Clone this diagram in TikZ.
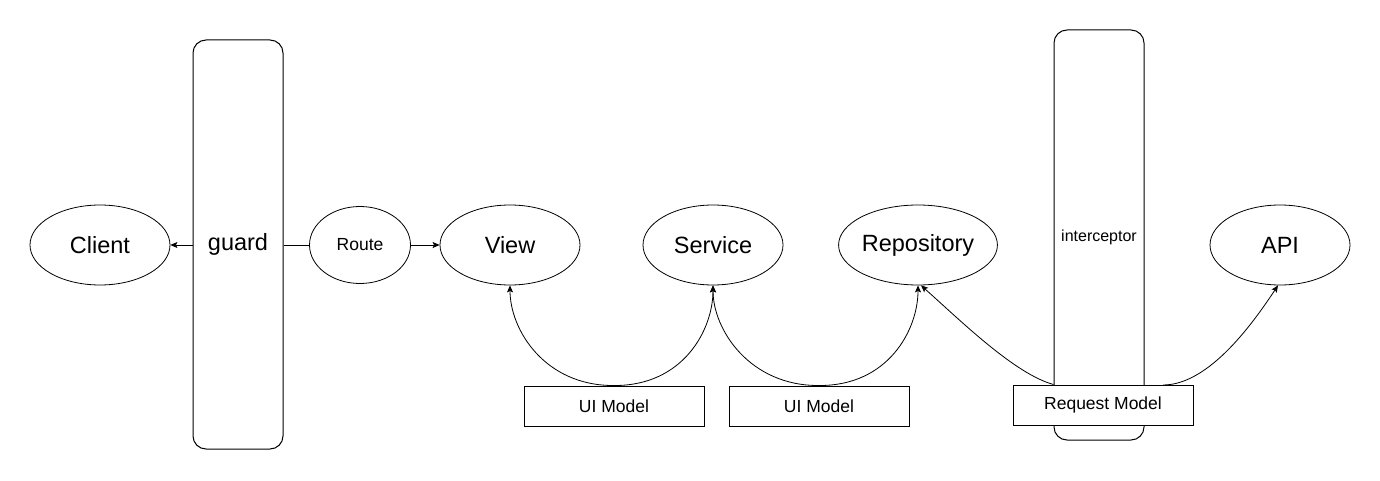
\documentclass[tikz,border=0pt]{standalone}
\usepackage{fontspec}
\setmainfont{Liberation Sans}
\usetikzlibrary{shapes.geometric,arrows.meta}
\begin{document}
\begin{tikzpicture}[x=1pt,y=-1pt,
  every node/.style={font=\fontsize{23.5}{28}\selectfont},
  oval/.style={ellipse,draw,line width=0.8pt,inner sep=0pt,minimum width=140pt,minimum height=80pt,fill=white},
  bar/.style={draw,line width=1pt,rounded corners=13pt,minimum width=90pt,inner sep=0pt,fill=white},
  model/.style={draw,line width=1pt,minimum width=180pt,minimum height=40pt,inner sep=0pt,fill=white,font=\fontsize{17.5}{21}\selectfont},
  conn/.style={line width=0.8pt,-{Stealth[length=7pt,width=6pt,inset=1.5pt]}}]
\useasboundingbox (0,0) rectangle (1380,481);
% bars
\node[bar,minimum height=409pt] (guard) at (238,244.5) {guard};
\node[bar,minimum height=410pt] (icp) at (1099,235) {};
\node[font=\fontsize{16}{19}\selectfont] (icpt) at (1099,237) {interceptor};
% ellipses
\node[oval] (client) at (100,245) {Client};
\node[oval,minimum width=101pt,minimum height=77pt,font=\fontsize{17.5}{21}\selectfont] (route) at (360,245) {Route};
\node[oval] (view) at (510,245) {View};
\node[oval] (service) at (713,245) {Service};
\node[oval] (repo) at (918,245) {Repository};
\node[oval] (api) at (1280,245) {API};
% model boxes
\node[model] (m1) at (614,406) {UI Model};
\node[model] (m2) at (819,406) {UI Model};
\node[model] (rm) at (1103,405) {Request Model};
% straight connectors
\draw[conn] (guard.west |- client.east) -- (client.east);
\draw[line width=0.8pt] (guard.east |- route.west) -- (route.west);
\draw[conn] (route.east) -- (view.west);
% curved connectors
\draw[conn] (m1.north) .. controls (545,386) and (510,330) .. (view.south);
\draw[conn] (m1.north) .. controls (683,386) and (713,330) .. (service.south);
\draw[conn] (m2.north) .. controls (750,386) and (713,330) .. (service.south);
\draw[conn] (m2.north) .. controls (888,386) and (918,330) .. (repo.south);
\coordinate (rl) at (rm.north -| icp.west);
\coordinate (rr) at (1163,385);
\draw[conn] (rl) .. controls (1015,374) and (962,322) .. ([xshift=3pt]repo.south);
\draw[conn] (rr) .. controls (1210,385) and (1255,320) .. ([xshift=-2pt]api.south);
\end{tikzpicture}
\end{document}
